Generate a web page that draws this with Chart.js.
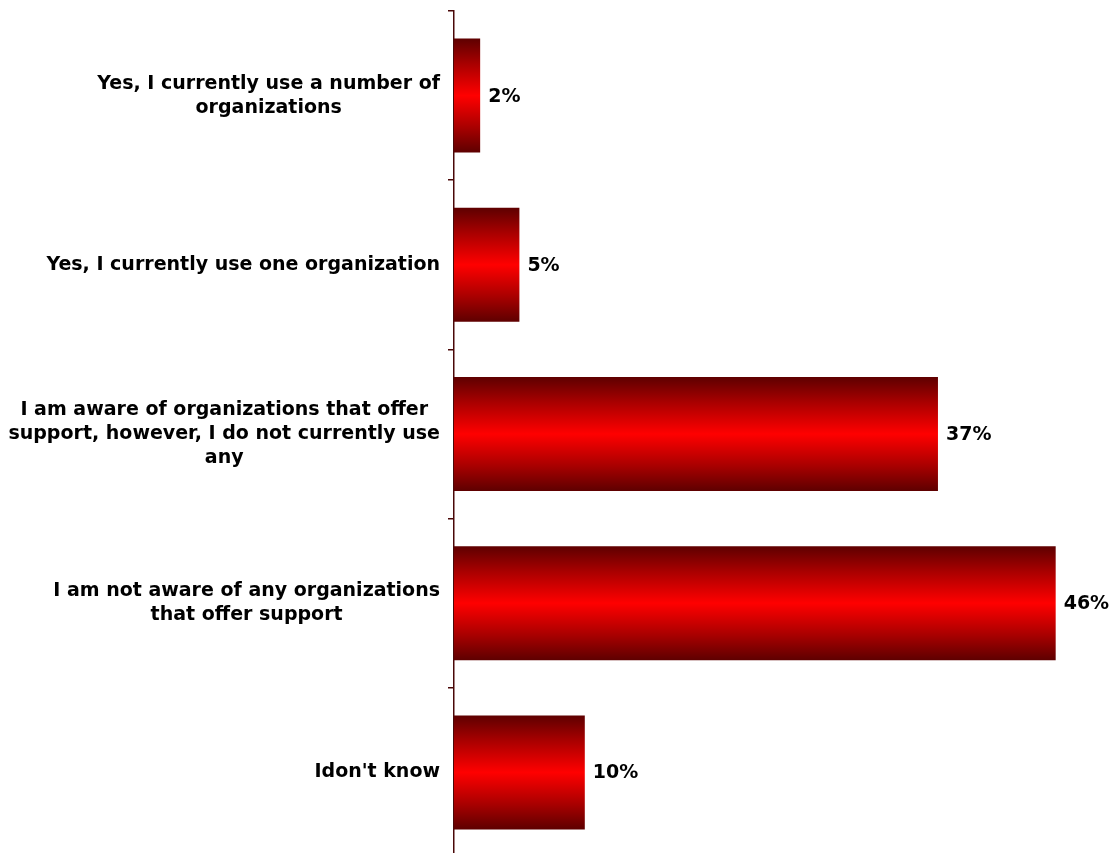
<!DOCTYPE html>
<html>
<head>
<meta charset="utf-8">
<script src="https://cdn.jsdelivr.net/npm/chart.js@4"></script>
<style>
  html, body { margin: 0; padding: 0; background: #ffffff; overflow: hidden; }
  #wrap { width: 1114px; height: 858px; position: relative; }
</style>
</head>
<body>
<div id="wrap"><canvas id="chart" width="1114" height="858"></canvas></div>
<script>
// Survey answers (each label split into its printed lines)
const categories = [
  ['Yes, I currently use a number of', 'organizations'],
  ['Yes, I currently use one organization'],
  ['I am aware of organizations that offer', 'support, however, I do not currently use', 'any'],
  ['I am not aware of any organizations', 'that offer support'],
  ["Idon't know"]
];
const shares = [2, 5, 37, 46, 10];
const valueLabels = ['2%', '5%', '37%', '46%', '10%'];

const LABEL_FONT = 'bold 19px "DejaVu Sans", Verdana, sans-serif';
const AXIS_COLOR = '#4a0808';
const BAR_PCT = 0.674;

// Vertical dark-bright-dark shading for each bar
function barGradient(ctx) {
  const chart = ctx.chart;
  const y = chart.scales.y;
  if (!chart.chartArea || !y) return '#ff0000';
  const c = y.getPixelForValue(ctx.dataIndex);
  const step = Math.abs(y.getPixelForValue(1) - y.getPixelForValue(0));
  const half = step * BAR_PCT / 2;
  const g = chart.ctx.createLinearGradient(0, c - half, 0, c + half);
  g.addColorStop(0, '#5e0000');
  g.addColorStop(0.22, '#a80000');
  g.addColorStop(0.5, '#ff0000');
  g.addColorStop(0.78, '#a80000');
  g.addColorStop(1, '#5e0000');
  return g;
}

// Category labels: block right-aligned to the axis, lines centred within the block
const categoryLabels = {
  id: 'categoryLabels',
  afterDraw(chart) {
    const ctx = chart.ctx;
    const y = chart.scales.y;
    const right = y.left - 8;
    const lineH = 24;
    ctx.save();
    ctx.font = LABEL_FONT;
    ctx.fillStyle = '#000000';
    ctx.textAlign = 'center';
    ctx.textBaseline = 'middle';
    categories.forEach((lines, i) => {
      const widest = Math.max(...lines.map(l => ctx.measureText(l).width));
      const cx = right - widest / 2;
      const cy = y.getPixelForValue(i);
      const top = cy - (lines.length - 1) * lineH / 2;
      lines.forEach((l, k) => ctx.fillText(l, cx, top + k * lineH));
    });
    ctx.restore();
  }
};

// Percentage labels just past the end of each bar
const valueTags = {
  id: 'valueTags',
  afterDatasetsDraw(chart) {
    const ctx = chart.ctx;
    const meta = chart.getDatasetMeta(0);
    ctx.save();
    ctx.font = LABEL_FONT;
    ctx.fillStyle = '#000000';
    ctx.textAlign = 'left';
    ctx.textBaseline = 'middle';
    meta.data.forEach((bar, i) => {
      ctx.fillText(valueLabels[i], bar.x + 8, bar.y + 1);
    });
    ctx.restore();
  }
};

new Chart(document.getElementById('chart'), {
  type: 'bar',
  data: {
    labels: categories.map(l => l.join(' ')),
    datasets: [{
      data: shares,
      backgroundColor: barGradient,
      borderWidth: 0,
      barPercentage: BAR_PCT,
      categoryPercentage: 1
    }]
  },
  options: {
    indexAxis: 'y',
    responsive: false,
    animation: false,
    events: [],
    layout: { padding: { left: 448, top: 11, right: 6, bottom: 1 } },
    plugins: { legend: { display: false }, tooltip: { enabled: false } },
    scales: {
      x: {
        display: false,
        min: 0,
        max: 50
      },
      y: {
        grid: {
          offset: true,
          drawOnChartArea: false,
          drawTicks: true,
          tickLength: 6,
          color: AXIS_COLOR,
          lineWidth: 1.5
        },
        border: { display: true, color: AXIS_COLOR, width: 1.5 },
        ticks: { display: false }
      }
    }
  },
  plugins: [categoryLabels, valueTags]
});
</script>
</body>
</html>
